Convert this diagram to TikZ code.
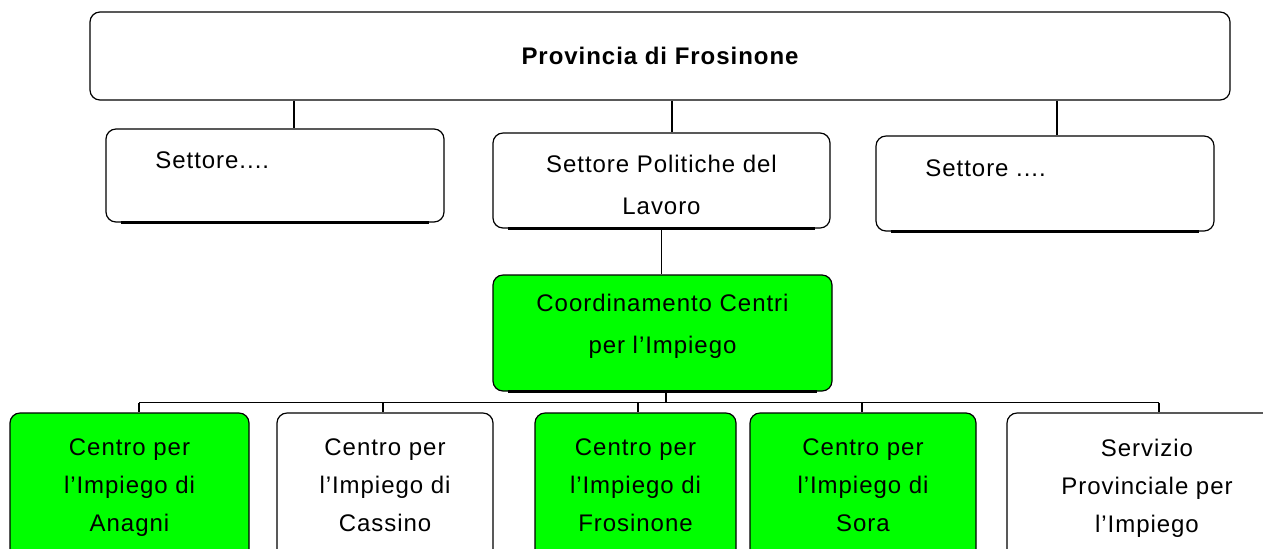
\documentclass[tikz,border=0pt]{standalone}
\usepackage{fontspec}
\setmainfont{Liberation Sans}
\definecolor{cpigreen}{RGB}{0, 255, 0}
\usetikzlibrary{positioning, calc}

\begin{document}
\begin{tikzpicture}[x=0.5pt, y=-0.5pt,
    orgbox/.style={draw=black, rounded corners=5pt, line width=0.6pt, inner sep=0pt, align=center, font=\fontsize{12}{21}\selectfont\addfontfeature{LetterSpace=4}},
    greenbox/.style={orgbox, fill=cpigreen},
    centrebox/.style={minimum height=75pt, text depth=2.5pt, font=\fontsize{12}{19}\selectfont\addfontfeature{LetterSpace=4}},
    link/.style={draw=black, line width=0.6pt}]
  \useasboundingbox (0,0) rectangle (1263,548);

  % top level
  \node[orgbox, minimum width=570pt, minimum height=44pt, font=\fontsize{12}{14}\selectfont\bfseries\addfontfeature{LetterSpace=4}] (prov) at (660,56) {Provincia di Frosinone};

  % sectors
  \node[orgbox, minimum width=169pt, minimum height=46.5pt] (set1) at (275,175.5) {};
  \node[font=\fontsize{12}{14}\selectfont\addfontfeature{LetterSpace=4}, anchor=west, inner sep=0pt] (set1t) at (155,160) {Settore....};
  \node[orgbox, minimum width=168.5pt, minimum height=47.5pt, text height=33.75pt] (set2) at (661.5,180.5) {Settore Politiche del\\Lavoro};
  \node[orgbox, minimum width=169pt, minimum height=47.5pt] (set3) at (1045,183.5) {};
  \node[font=\fontsize{12}{14}\selectfont\addfontfeature{LetterSpace=4}, anchor=west, inner sep=0pt] (set3t) at (925,168) {Settore ....};

  % coordination
  \node[greenbox, minimum width=169.5pt, minimum height=58pt, text depth=9pt] (coord) at (662.5,333) {Coordinamento Centri\\per l'Impiego};

  % centres
  \node[greenbox, centrebox, minimum width=119.5pt] (anagni) at (129.5,488) {Centro per\\l'Impiego di\\Anagni};
  \node[orgbox, centrebox, minimum width=108pt] (cassino) at (385,488) {Centro per\\l'Impiego di\\Cassino};
  \node[greenbox, centrebox, minimum width=100.5pt] (frosinone) at (635.5,488) {Centro per\\l'Impiego di\\Frosinone};
  \node[greenbox, centrebox, minimum width=113pt] (sora) at (863,488) {Centro per\\l'Impiego di\\Sora};
  \node[orgbox, centrebox, minimum width=140pt] (servizio) at (1147,488) {Servizio\\Provinciale per\\l'Impiego};

  % shadows under the sector boxes
  \foreach \n in {set1, set2, set3, coord}
    \draw[line width=1.6pt] ([xshift=8pt]\n.south west) -- ([xshift=-8pt]\n.south east);

  % connectors
  \foreach \n/\dx in {set1/19, set2/10.5, set3/12}
    \draw[link] ($(prov.south -| \n.north)+(\dx,0)$) -- ($(\n.north)+(\dx,0)$);
  \draw[link] (set2.south) -- (set2.south |- coord.north);
  \coordinate (bus) at ($(coord.south)+(3.5,11)$);
  \draw[link] ($(coord.south)+(3.5,0)$) -- (bus);
  \draw[link] ($(anagni.north |- bus)+(9.5,0)$) -- ($(servizio.north |- bus)+(12,0)$);
  \foreach \n/\dx in {anagni/9.5, cassino/-2, frosinone/2.5, sora/-1, servizio/12}
    \draw[link] ($(\n.north |- bus)+(\dx,0)$) -- ($(\n.north)+(\dx,0)$);
\end{tikzpicture}
\end{document}
